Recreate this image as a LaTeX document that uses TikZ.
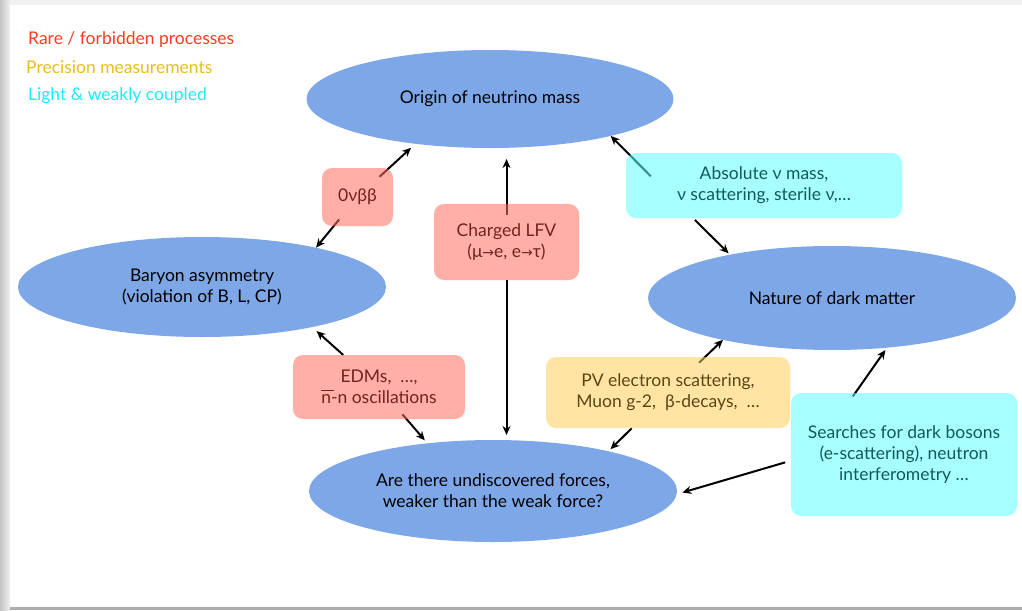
\documentclass[tikz,border=0pt]{standalone}
\usepackage{fontspec}
\setmainfont{Lato}
\newfontfamily\symfont{DejaVu Sans}
\usetikzlibrary{arrows.meta,calc,shapes.geometric}
\definecolor{ellfill}{HTML}{7EA7E8}
\definecolor{redfill}{RGB}{255,111,93}
\definecolor{yelfill}{RGB}{255,206,91}
\definecolor{cyafill}{RGB}{97,255,255}
\definecolor{redtxt}{HTML}{73231A}
\definecolor{yeltxt}{HTML}{5A4614}
\definecolor{cyatxt}{HTML}{0F5A5A}
\definecolor{legred}{HTML}{FF3C1E}
\definecolor{legyel}{HTML}{E8BE1E}
\definecolor{legcya}{HTML}{1EEBFF}
\newcommand{\arr}{{\symfont\scalebox{0.8}{→}}}
\newcommand{\nbar}{\rlap{\raisebox{0.72em}{\rule{0.7em}{0.8pt}}}n}
\pgfdeclarelayer{frame}
\pgfdeclarelayer{lines}
\pgfsetlayers{frame,lines,main}
\tikzset{
  ell/.style={ellipse, fill=ellfill, inner sep=0pt, outer sep=0pt, align=center,
    font=\fontsize{17.5}{21}\selectfont},
  rbox/.style={rectangle, rounded corners=10pt, inner sep=0pt, outer sep=0pt,
    fill opacity=0.55, text opacity=1, align=center, font=\fontsize{17.5}{21}\selectfont},
  redbox/.style={rbox, fill=redfill, text=redtxt},
  yelbox/.style={rbox, fill=yelfill, text=yeltxt},
  cyabox/.style={rbox, fill=cyafill, text=cyatxt},
  conn/.style={line width=2pt, -{Stealth[length=9pt,width=8pt]}},
  legend/.style={anchor=west, inner sep=0pt, font=\fontsize{17.5}{20}\selectfont}
}
\begin{document}
\begin{tikzpicture}[x=1pt,y=-1pt]
\useasboundingbox (0,0) rectangle (1022,610);
\begin{pgfonlayer}{frame}
\fill[gray!12] (0,0) rectangle (1022,610);
\shade[left color=gray!45, right color=gray!12] (0,0) rectangle (10,610);
\fill[white] (10,5) rectangle (1022,607);
\fill[gray!65] (10,607) rectangle (1022,610);
\end{pgfonlayer}

% legend
\node[legend, text=legred] (l1) at (28,40) {Rare / forbidden processes};
\node[legend, text=legyel] (l2) at (26,67) {Precision measurements};
\node[legend, text=legcya] (l3) at (28,96) {Light \& weakly coupled};

% ellipses
\node[ell, minimum width=367pt, minimum height=98pt] (origin) at (490,99) {Origin of neutrino mass};
\node[ell, minimum width=368pt, minimum height=100pt] (baryon) at (202,287) {Baryon asymmetry\\(violation of B, L, CP)};
\node[ell, minimum width=368pt, minimum height=104pt] (dark) at (832,298) {Nature of dark matter};
\node[ell, minimum width=368pt, minimum height=102pt] (bottom) at (493,491) {Are there undiscovered forces,\\weaker than the weak force?};

% boxes
\node[redbox, minimum width=71pt, minimum height=58pt] (zbb) at (357.5,197) {0νββ};
\node[redbox, minimum width=145pt, minimum height=76pt] (lfv) at (506.5,242) {Charged LFV\\(μ\arr e, e\arr τ)};
\node[redbox, minimum width=172pt, minimum height=64pt] (edm) at (379,387) {EDMs,\ \ …,\\\nbar-n oscillations};
\node[yelbox, minimum width=244pt, minimum height=71pt] (pv) at (668,392.5) {PV electron scattering,\\Muon g-2,\ \ β-decays,\ \ …};
\node[cyabox, minimum width=276pt, minimum height=65pt] (abs) at (764,185.5) {Absolute ν mass,\\ν scattering, sterile ν,…};
\node[cyabox, minimum width=226pt, minimum height=123pt] (src) at (904,454.5) {Searches for dark bosons\\(e-scattering), neutron\\interferometry …};

\coordinate (absT) at ([xshift=34pt]abs.west);
\coordinate (srcT) at ([xshift=21pt]src.west);

\begin{pgfonlayer}{lines}
\draw[conn, shorten <=30pt, shorten >=6pt] (zbb.center) -- (origin.211);
\draw[conn, shorten <=29pt] (zbb.center) -- (baryon.19);
\draw[conn, shorten <=27pt, shorten >=11pt] (lfv.center) -- (lfv.center |- origin.south);
\draw[conn, shorten <=38pt, shorten >=5pt] (lfv.center) -- (lfv.center |- bottom.north);
\draw[conn, shorten <=48pt, shorten >=6pt] (edm.center) -- (baryon.-20);
\draw[conn, shorten <=36pt, shorten >=4pt] (edm.center) -- (bottom.144);
\draw[conn, shorten <=43pt] (pv.center) -- (dark.201);
\draw[conn, shorten <=51pt, shorten >=3pt] (pv.center) -- (bottom.19);
\draw[conn, shorten <=13pt] (absT) -- (origin.-17);
\draw[conn, shorten <=49pt, shorten >=2pt] (absT) -- (dark.157);
\draw[conn, shorten <=71pt, shorten >=3pt] (srcT) -- (dark.-42);
\draw[conn, shorten <=28pt, shorten >=6pt] (srcT) -- (bottom.-1);
\end{pgfonlayer}
\end{tikzpicture}
\end{document}
